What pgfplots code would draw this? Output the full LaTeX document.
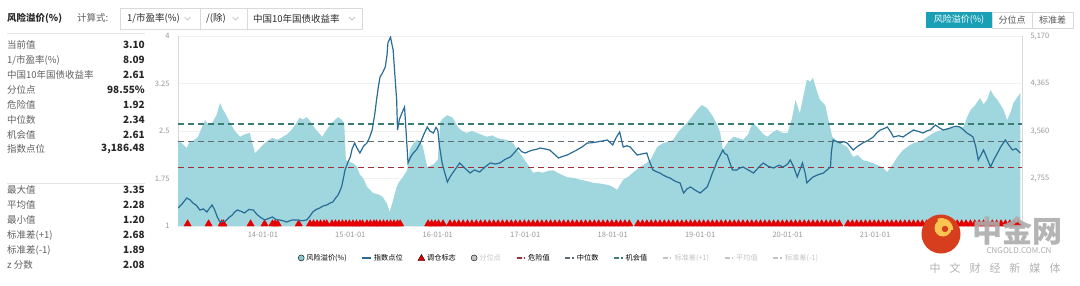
\documentclass[border=0pt]{standalone}
\usepackage{fontspec}
\setmainfont{Noto Sans CJK SC}
\usepackage{pgfplots}
\pgfplotsset{compat=1.18}
\definecolor{areac}{RGB}{160,214,222}
\definecolor{linec}{RGB}{40,108,150}
\definecolor{trired}{RGB}{228,0,0}
\definecolor{dangerc}{RGB}{160,45,55}
\definecolor{medc}{RGB}{95,108,115}
\definecolor{oppc}{RGB}{60,125,115}
\definecolor{btnc}{RGB}{26,160,181}
\definecolor{labc}{RGB}{95,95,95}
\definecolor{valc}{RGB}{40,40,40}
\definecolor{tickc}{RGB}{150,150,150}
\definecolor{fadec}{RGB}{195,195,195}
\definecolor{logored}{RGB}{214,62,29}
\definecolor{logoyel}{RGB}{250,196,80}
\newcommand{\fs}[1]{\fontsize{#1}{#1}\selectfont}
\pgfplotsset{
  dot legend/.style={legend image code/.code={\fill[##1] (3pt,0pt) circle (3pt);}},
  tri legend/.style={legend image code/.code={\fill[##1] (0pt,-2.6pt) -- (7pt,-2.6pt) -- (3.5pt,3.4pt) -- cycle;}},
  seg legend/.style={legend image code/.code={\draw[##1] (0pt,0pt) -- (9pt,0pt);}},
}
\begin{document}
\begin{tikzpicture}
\path[use as bounding box] (0,0) rectangle (1080pt,285pt);
% ---------- main axis (risk premium, left) ----------
\begin{axis}[
  at={(178pt,59pt)}, anchor=south west,
  width=844pt, height=190pt, scale only axis,
  xmin=2013.03, xmax=2022.68, ymin=1, ymax=4,
  xtick={2014,2015,2016,2017,2018,2019,2020,2021,2022},
  xticklabels={14-01-01,15-01-01,16-01-01,17-01-01,18-01-01,19-01-01,20-01-01,21-01-01,{}},
  ytick={1,1.75,2.5,3.25,4},
  yticklabels={1,1.75,2.5,3.25,4},
  major tick length=0pt,
  ymajorgrids, grid style={draw=gray!12},
  separate axis lines,
  x axis line style={draw=none},
  y axis line style={draw=gray!30},
  xticklabel style={font=\fs{7.5}, text=tickc, yshift=-3pt},
  yticklabel style={font=\fs{7.5}, text=tickc, xshift=-5pt},
  legend columns=10,
  legend style={at={(axis description cs:0.142,-0.168)}, anchor=west,
    draw=none, fill=none, font=\fs{7.2}, inner sep=0pt,
    /tikz/every even column/.append style={column sep=13pt}},
]
% risk premium area
\addplot[fill=areac, draw=none, forget plot] coordinates {
(2013.03,2.36)(2013.08,2.30)(2013.13,2.23)(2013.16,2.33)(2013.21,2.35)(2013.26,2.41)(2013.30,2.55)(2013.34,2.67)(2013.38,2.60)(2013.42,2.63)(2013.47,2.75)(2013.51,2.94)(2013.54,2.85)(2013.57,2.78)(2013.62,2.64)(2013.68,2.50)(2013.74,2.41)(2013.80,2.45)(2013.85,2.47)(2013.91,2.15)(2013.96,2.22)(2014.00,2.28)(2014.06,2.35)(2014.11,2.39)(2014.17,2.36)(2014.23,2.41)(2014.28,2.45)(2014.33,2.52)(2014.38,2.62)(2014.42,2.71)(2014.46,2.68)(2014.50,2.72)(2014.54,2.66)(2014.57,2.59)(2014.62,2.50)(2014.68,2.41)(2014.73,2.52)(2014.79,2.63)(2014.86,2.72)(2014.90,2.68)(2014.93,2.63)(2014.95,2.04)(2015.03,1.99)(2015.07,1.95)(2015.11,1.81)(2015.15,1.75)(2015.19,1.62)(2015.26,1.52)(2015.32,1.50)(2015.37,1.46)(2015.42,1.35)(2015.45,1.22)(2015.49,1.41)(2015.53,1.62)(2015.56,1.70)(2015.60,1.77)(2015.65,1.88)(2015.68,2.20)(2015.72,2.30)(2015.76,2.36)(2015.80,2.33)(2015.83,2.25)(2015.88,1.93)(2015.95,1.97)(2016.00,2.05)(2016.03,2.65)(2016.07,2.71)(2016.11,2.75)(2016.17,2.71)(2016.23,2.56)(2016.28,2.50)(2016.33,2.47)(2016.39,2.50)(2016.45,2.47)(2016.50,2.44)(2016.56,2.41)(2016.62,2.43)(2016.68,2.39)(2016.74,2.37)(2016.79,2.36)(2016.86,2.31)(2016.90,2.22)(2016.94,2.15)(2017.02,1.99)(2017.09,1.84)(2017.15,1.86)(2017.20,1.84)(2017.26,1.87)(2017.32,1.88)(2017.40,1.82)(2017.48,1.77)(2017.55,1.76)(2017.63,1.73)(2017.70,1.71)(2017.78,1.68)(2017.86,1.67)(2017.94,1.65)(2018.00,1.62)(2018.05,1.57)(2018.12,1.73)(2018.18,1.78)(2018.23,1.84)(2018.31,1.93)(2018.37,1.98)(2018.43,2.04)(2018.51,2.25)(2018.58,2.31)(2018.64,2.33)(2018.69,2.36)(2018.77,2.52)(2018.85,2.63)(2018.92,2.75)(2018.97,2.84)(2019.02,2.91)(2019.08,2.86)(2019.15,2.72)(2019.20,2.58)(2019.23,2.47)(2019.26,2.20)(2019.31,2.31)(2019.38,2.41)(2019.44,2.39)(2019.49,2.36)(2019.55,2.45)(2019.60,2.64)(2019.66,2.55)(2019.72,2.45)(2019.77,2.41)(2019.83,2.48)(2019.88,2.52)(2019.94,2.47)(2020.00,2.47)(2020.05,2.70)(2020.09,2.99)(2020.14,2.78)(2020.18,3.05)(2020.22,3.31)(2020.26,3.28)(2020.29,3.34)(2020.33,3.15)(2020.37,2.99)(2020.43,2.91)(2020.46,2.72)(2020.51,2.41)(2020.56,2.35)(2020.60,2.31)(2020.68,2.25)(2020.75,2.09)(2020.80,2.12)(2020.86,2.04)(2020.92,2.02)(2020.98,1.99)(2021.03,1.96)(2021.08,1.93)(2021.14,1.85)(2021.21,1.99)(2021.26,2.10)(2021.32,2.20)(2021.38,2.26)(2021.44,2.31)(2021.50,2.33)(2021.55,2.36)(2021.61,2.42)(2021.67,2.47)(2021.72,2.50)(2021.78,2.52)(2021.84,2.55)(2021.89,2.55)(2021.95,2.57)(2022.01,2.56)(2022.05,2.71)(2022.09,2.83)(2022.14,2.90)(2022.20,3.02)(2022.24,2.92)(2022.28,2.99)(2022.32,3.15)(2022.36,3.05)(2022.40,2.99)(2022.44,2.90)(2022.47,2.83)(2022.51,2.67)(2022.55,2.80)(2022.58,2.94)(2022.62,3.02)(2022.66,3.10)
} \closedcycle;
% reference lines
\addplot[oppc, line width=1.1pt, dash pattern=on 6pt off 4pt, forget plot] coordinates {(2013.03,2.61)(2022.68,2.61)};
\addplot[medc, line width=1.1pt, dash pattern=on 6pt off 4pt, forget plot] coordinates {(2013.03,2.34)(2022.68,2.34)};
\addplot[dangerc, line width=1.1pt, dash pattern=on 6pt off 4pt, forget plot] coordinates {(2013.03,1.92)(2022.68,1.92)};
% rebalancing signals
\addplot[only marks, mark=triangle*, mark size=4.2pt, color=trired, mark options={yshift=2.1pt, draw=none, fill=trired}, forget plot] coordinates {
(2013.14,1)(2013.38,1)(2013.53,1)(2013.55,1)(2013.86,1)(2014.02,1)(2014.11,1)(2014.14,1)(2014.17,1)(2014.41,1)
(2014.54,1)(2014.58,1)(2014.62,1)(2014.66,1)(2014.70,1)(2014.73,1)
(2014.79,1)(2014.83,1)(2014.87,1)(2014.91,1)(2014.95,1)(2014.99,1)(2015.03,1)(2015.07,1)(2015.11,1)(2015.14,1)
(2015.19,1)(2015.23,1)(2015.27,1)(2015.30,1)
(2015.34,1)(2015.38,1)(2015.42,1)(2015.46,1)(2015.50,1)(2015.54,1)(2015.57,1)
(2015.89,1)(2015.93,1)(2015.97,1)(2016.01,1)(2016.06,1)
(2016.14,1)(2016.19,1)(2016.24,1)(2016.29,1)(2016.34,1)(2016.39,1)(2016.44,1)(2016.49,1)(2016.54,1)(2016.59,1)(2016.64,1)(2016.69,1)(2016.74,1)(2016.79,1)(2016.84,1)(2016.89,1)(2016.94,1)(2016.99,1)
(2017.04,1)(2017.09,1)(2017.14,1)(2017.19,1)(2017.24,1)(2017.29,1)(2017.34,1)(2017.39,1)(2017.44,1)(2017.49,1)(2017.54,1)(2017.59,1)(2017.64,1)(2017.69,1)(2017.74,1)(2017.79,1)(2017.84,1)(2017.89,1)(2017.94,1)(2017.99,1)
(2018.04,1)(2018.09,1)(2018.14,1)(2018.19,1)(2018.29,1)(2018.34,1)(2018.39,1)(2018.44,1)(2018.49,1)(2018.54,1)(2018.59,1)(2018.64,1)(2018.69,1)(2018.74,1)(2018.79,1)(2018.84,1)(2018.89,1)(2018.94,1)(2018.99,1)
(2019.04,1)(2019.09,1)(2019.14,1)(2019.19,1)(2019.24,1)(2019.29,1)(2019.34,1)(2019.39,1)(2019.44,1)(2019.49,1)(2019.54,1)(2019.59,1)(2019.64,1)(2019.69,1)(2019.74,1)(2019.79,1)(2019.84,1)(2019.89,1)(2019.94,1)(2019.99,1)
(2020.04,1)(2020.09,1)(2020.14,1)(2020.19,1)(2020.24,1)(2020.29,1)(2020.34,1)(2020.39,1)(2020.44,1)(2020.49,1)(2020.54,1)(2020.59,1)(2020.69,1)(2020.74,1)(2020.79,1)(2020.84,1)(2020.89,1)(2020.94,1)(2020.99,1)
(2021.04,1)(2021.09,1)(2021.14,1)(2021.19,1)(2021.24,1)(2021.29,1)(2021.34,1)(2021.39,1)(2021.44,1)(2021.49,1)(2021.54,1)(2021.59,1)(2021.64,1)(2021.69,1)(2021.74,1)(2021.79,1)(2021.84,1)(2021.89,1)(2021.94,1)(2021.99,1)
(2022.04,1)(2022.09,1)(2022.14,1)(2022.19,1)(2022.24,1)(2022.29,1)(2022.34,1)(2022.39,1)(2022.44,1)(2022.49,1)(2022.54,1)(2022.59,1)(2022.64,1)
};
% legend
\addlegendimage{dot legend, fill=areac!85!teal}
\addlegendentry{风险溢价(\%)}
\addlegendimage{seg legend, linec, line width=1.2pt}
\addlegendentry{指数点位}
\addlegendimage{tri legend, fill=trired}
\addlegendentry{调仓标志}
\addlegendimage{dot legend, fill=fadec}
\addlegendentry{\textcolor{fadec}{分位点}}
\addlegendimage{seg legend, dangerc, line width=1.2pt, dash pattern=on 5pt off 2pt on 1.5pt off 1pt}
\addlegendentry{危险值}
\addlegendimage{seg legend, medc, line width=1.2pt, dash pattern=on 5pt off 2pt on 1.5pt off 1pt}
\addlegendentry{中位数}
\addlegendimage{seg legend, oppc, line width=1.2pt, dash pattern=on 5pt off 2pt on 1.5pt off 1pt}
\addlegendentry{机会值}
\addlegendimage{seg legend, fadec, line width=1.2pt, dash pattern=on 5pt off 2pt on 1.5pt off 1pt}
\addlegendentry{\textcolor{fadec}{标准差(+1)}}
\addlegendimage{seg legend, fadec, line width=1.2pt, dash pattern=on 5pt off 2pt on 1.5pt off 1pt}
\addlegendentry{\textcolor{fadec}{平均值}}
\addlegendimage{seg legend, fadec, line width=1.2pt, dash pattern=on 5pt off 2pt on 1.5pt off 1pt}
\addlegendentry{\textcolor{fadec}{标准差(-1)}}
\end{axis}
% ---------- secondary axis (index level, right) ----------
\begin{axis}[
  at={(178pt,59pt)}, anchor=south west,
  width=844pt, height=190pt, scale only axis,
  xmin=2013.03, xmax=2022.68, ymin=1950, ymax=5170,
  axis x line=none, axis y line*=right,
  y axis line style={draw=gray!30},
  ytick={1950,2755,3560,4365,5170},
  yticklabels={{},{2,755},{3,560},{4,365},{5,170}},
  major tick length=0pt,
  yticklabel style={font=\fs{7.5}, text=tickc, xshift=5pt},
]
\addplot[linec, line width=1.2pt, forget plot] coordinates {
(2013.03,2255)(2013.08,2330)(2013.13,2425)(2013.17,2390)(2013.20,2340)(2013.24,2300)(2013.28,2221)(2013.32,2240)(2013.36,2187)(2013.39,2250)(2013.42,2306)(2013.45,2221)(2013.48,2100)(2013.51,2018)(2013.57,2030)(2013.61,2090)(2013.65,2136)(2013.68,2190)(2013.71,2221)(2013.75,2200)(2013.79,2170)(2013.84,2230)(2013.89,2221)(2013.94,2136)(2013.98,2090)(2014.02,2052)(2014.07,2080)(2014.11,2103)(2014.15,2060)(2014.19,2052)(2014.23,2040)(2014.27,2018)(2014.33,2050)(2014.39,2052)(2014.45,2040)(2014.50,2052)(2014.54,2120)(2014.57,2187)(2014.61,2230)(2014.65,2255)(2014.69,2290)(2014.73,2306)(2014.77,2340)(2014.80,2357)(2014.83,2420)(2014.86,2475)(2014.88,2540)(2014.90,2611)(2014.92,2750)(2014.94,2899)(2014.97,3020)(2015.00,3120)(2015.02,3250)(2015.05,3357)(2015.08,3260)(2015.11,3187)(2015.15,3300)(2015.19,3357)(2015.22,3450)(2015.25,3577)(2015.28,3850)(2015.30,4086)(2015.32,4300)(2015.34,4476)(2015.37,4550)(2015.40,4645)(2015.42,4850)(2015.43,5052)(2015.46,5153)(2015.48,5000)(2015.49,4933)(2015.51,4500)(2015.53,4086)(2015.54,3577)(2015.56,3750)(2015.59,3865)(2015.62,3967)(2015.64,3500)(2015.66,3018)(2015.69,3120)(2015.72,3187)(2015.76,3250)(2015.80,3357)(2015.84,3500)(2015.88,3628)(2015.91,3560)(2015.95,3526)(2015.98,3620)(2016.00,3577)(2016.02,3300)(2016.05,3018)(2016.08,2850)(2016.11,2696)(2016.14,2780)(2016.17,2848)(2016.21,2930)(2016.25,3018)(2016.31,2930)(2016.37,2848)(2016.42,2900)(2016.48,2865)(2016.54,2950)(2016.60,3018)(2016.66,3000)(2016.71,3018)(2016.77,3080)(2016.83,3120)(2016.88,3200)(2016.92,3272)(2016.96,3210)(2017.00,3187)(2017.05,3220)(2017.09,3238)(2017.13,3250)(2017.17,3272)(2017.23,3255)(2017.28,3238)(2017.33,3170)(2017.38,3103)(2017.43,3130)(2017.48,3153)(2017.54,3200)(2017.59,3238)(2017.65,3290)(2017.71,3357)(2017.76,3360)(2017.82,3374)(2017.88,3390)(2017.94,3408)(2018.00,3323)(2018.04,3450)(2018.08,3543)(2018.12,3289)(2018.16,3310)(2018.20,3289)(2018.24,3220)(2018.28,3153)(2018.33,3170)(2018.39,3187)(2018.42,3050)(2018.46,2899)(2018.50,2870)(2018.54,2848)(2018.58,2810)(2018.62,2781)(2018.66,2760)(2018.69,2730)(2018.73,2700)(2018.77,2679)(2018.81,2509)(2018.85,2580)(2018.89,2611)(2018.94,2560)(2019.00,2509)(2019.04,2560)(2019.08,2611)(2019.11,2720)(2019.14,2848)(2019.17,2950)(2019.19,3035)(2019.23,3150)(2019.26,3238)(2019.28,3180)(2019.31,3153)(2019.34,3020)(2019.37,2899)(2019.42,2899)(2019.45,2930)(2019.49,2950)(2019.55,2900)(2019.61,2848)(2019.66,2930)(2019.72,3018)(2019.78,2960)(2019.84,2933)(2019.90,2980)(2019.95,2950)(2020.00,3000)(2020.03,3069)(2020.07,2950)(2020.11,2781)(2020.14,2900)(2020.17,3018)(2020.20,2850)(2020.22,2679)(2020.26,2740)(2020.29,2781)(2020.35,2820)(2020.41,2848)(2020.45,2900)(2020.49,2950)(2020.50,3200)(2020.52,3408)(2020.56,3380)(2020.60,3357)(2020.64,3380)(2020.68,3357)(2020.72,3290)(2020.75,3238)(2020.80,3300)(2020.86,3357)(2020.92,3400)(2020.98,3459)(2021.02,3530)(2021.06,3577)(2021.10,3600)(2021.14,3628)(2021.18,3540)(2021.21,3459)(2021.27,3480)(2021.32,3459)(2021.38,3520)(2021.44,3577)(2021.50,3550)(2021.55,3526)(2021.59,3560)(2021.63,3577)(2021.69,3662)(2021.74,3610)(2021.78,3577)(2021.84,3600)(2021.89,3628)(2021.93,3640)(2021.97,3628)(2022.01,3580)(2022.05,3526)(2022.09,3490)(2022.12,3459)(2022.15,3300)(2022.18,3069)(2022.21,3150)(2022.24,3238)(2022.28,3100)(2022.32,2950)(2022.36,3080)(2022.40,3187)(2022.44,3300)(2022.49,3408)(2022.53,3320)(2022.57,3238)(2022.61,3260)(2022.66,3186)
};
\end{axis}
% ---------- surrounding interface (pixel coordinates, y down) ----------
\begin{scope}[x=1pt, y=-1pt, yshift=285pt]
  % top bar
  \node[anchor=west, inner sep=0pt, font=\bfseries\fs{9.5}, text=valc] at (7,18) {风险溢价(\%)};
  \node[anchor=west, inner sep=0pt, font=\fs{9.5}, text=labc] at (77,18) {计算式:};
  \draw[gray!30] (120,8) rectangle (200,29);
  \draw[gray!30] (200,8) rectangle (247,29);
  \draw[gray!30] (247,8) rectangle (362,29);
  \node[anchor=west, inner sep=0pt, font=\fs{9.5}, text=valc] at (127,18.5) {1/市盈率(\%)};
  \node[anchor=west, inner sep=0pt, font=\fs{9.5}, text=valc] at (206,18.5) {/(除)};
  \node[anchor=west, inner sep=0pt, font=\fs{9.5}, text=valc] at (253,18.5) {中国10年国债收益率};
  \draw[gray!60, line width=0.6pt] (184.5,17) -- (187.5,20) -- (190.5,17);
  \draw[gray!60, line width=0.6pt] (232.5,17) -- (235.5,20) -- (238.5,17);
  \draw[gray!60, line width=0.6pt] (349,17) -- (352,20) -- (355,17);
  % buttons
  \fill[btnc] (926,12) rectangle (992,28);
  \draw[gray!30] (992,12) rectangle (1032,28);
  \draw[gray!30] (1032,12) rectangle (1073,28);
  \node[inner sep=0pt, font=\fs{9}, text=white] at (959,20) {风险溢价(\%)};
  \node[inner sep=0pt, font=\fs{9}, text=valc!80] at (1012,20) {分位点};
  \node[inner sep=0pt, font=\fs{9}, text=valc!80] at (1052.5,20) {标准差};
  % left panel
  \draw[gray!20] (7,33) -- (145,33);
  \draw[gray!20] (7,183) -- (145,183);
  \begin{scope}[every node/.style={inner sep=0pt}]
  \node[anchor=west, font=\fs{9.5}, text=labc] at (7,45) {当前值};
  \node[anchor=west, font=\fs{9.5}, text=labc] at (7,60) {1/市盈率(\%)};
  \node[anchor=west, font=\fs{9.5}, text=labc] at (7,75) {中国10年国债收益率};
  \node[anchor=west, font=\fs{9.5}, text=labc] at (7,90) {分位点};
  \node[anchor=west, font=\fs{9.5}, text=labc] at (7,105) {危险值};
  \node[anchor=west, font=\fs{9.5}, text=labc] at (7,120) {中位数};
  \node[anchor=west, font=\fs{9.5}, text=labc] at (7,135) {机会值};
  \node[anchor=west, font=\fs{9.5}, text=labc] at (7,149) {指数点位};
  \node[anchor=east, font=\bfseries\fs{10}, text=valc] at (145,45) {3.10};
  \node[anchor=east, font=\bfseries\fs{10}, text=valc] at (145,60) {8.09};
  \node[anchor=east, font=\bfseries\fs{10}, text=valc] at (145,75) {2.61};
  \node[anchor=east, font=\bfseries\fs{10}, text=valc] at (145,90) {98.55\%};
  \node[anchor=east, font=\bfseries\fs{10}, text=valc] at (145,105) {1.92};
  \node[anchor=east, font=\bfseries\fs{10}, text=valc] at (145,120) {2.34};
  \node[anchor=east, font=\bfseries\fs{10}, text=valc] at (145,135) {2.61};
  \node[anchor=east, font=\bfseries\fs{10}, text=valc] at (145,149) {3,186.48};
  \node[anchor=west, font=\fs{9.5}, text=labc] at (7,190) {最大值};
  \node[anchor=west, font=\fs{9.5}, text=labc] at (7,205) {平均值};
  \node[anchor=west, font=\fs{9.5}, text=labc] at (7,220) {最小值};
  \node[anchor=west, font=\fs{9.5}, text=labc] at (7,235) {标准差(+1)};
  \node[anchor=west, font=\fs{9.5}, text=labc] at (7,250) {标准差(-1)};
  \node[anchor=west, font=\fs{9.5}, text=labc] at (7,265) {z 分数};
  \node[anchor=east, font=\bfseries\fs{10}, text=valc] at (145,190) {3.35};
  \node[anchor=east, font=\bfseries\fs{10}, text=valc] at (145,205) {2.28};
  \node[anchor=east, font=\bfseries\fs{10}, text=valc] at (145,220) {1.20};
  \node[anchor=east, font=\bfseries\fs{10}, text=valc] at (145,235) {2.68};
  \node[anchor=east, font=\bfseries\fs{10}, text=valc] at (145,250) {1.89};
  \node[anchor=east, font=\bfseries\fs{10}, text=valc] at (145,265) {2.08};
  \end{scope}
  % watermark logo
  \fill[logored] (941,234) circle (19.5);
  \fill[logoyel] (943,228) circle (8.5);
  \fill[logored] (945,229) circle (3.2);
  \draw[logoyel, line width=4pt] (951.2,230) arc (0:-110:10);
  \node[inner sep=0pt, font=\bfseries\fs{30}, text=gray!65, opacity=0.9] at (1017,231) {中金网};
  \node[inner sep=0pt, font=\fs{8}, text=gray!65] at (1019,251) {CNGOLD.COM.CN};
  \node[inner sep=0pt, font=\fs{11}, text=gray!60] at (995,268) {中\hspace{9pt}文\hspace{9pt}财\hspace{9pt}经\hspace{9pt}新\hspace{9pt}媒\hspace{9pt}体};
\end{scope}
\end{tikzpicture}
\end{document}
